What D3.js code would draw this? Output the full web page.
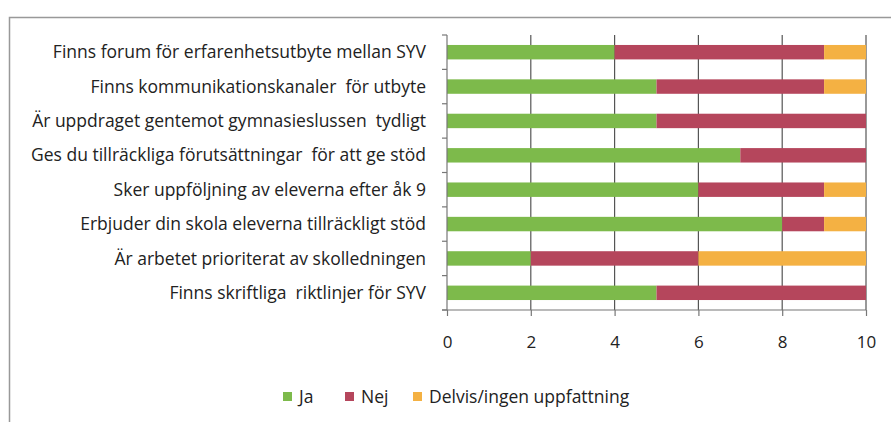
<!DOCTYPE html>
<html>
<head>
<meta charset="utf-8">
<script src="https://cdn.jsdelivr.net/npm/d3@7"></script>
<style>
  body { margin: 0; background: #fff; }
  text { font-family: "Open Sans", Lato, sans-serif; fill: #222; }
</style>
</head>
<body>
<script>
// questions, top to bottom
var categories = [
    "Finns forum för erfarenhetsutbyte mellan SYV",
    "Finns kommunikationskanaler  för utbyte",
    "Är uppdraget gentemot gymnasieslussen  tydligt",
    "Ges du tillräckliga förutsättningar  för att ge stöd",
    "Sker uppföljning av eleverna efter åk 9",
    "Erbjuder din skola eleverna tillräckligt stöd",
    "Är arbetet prioriterat av skolledningen",
    "Finns skriftliga  riktlinjer för SYV"
];
var ja     = [4, 5, 5, 7, 6, 8, 2, 5];
var nej    = [5, 4, 5, 3, 3, 1, 4, 5];
var delvis = [1, 1, 0, 0, 1, 1, 4, 0];
var seriesNames = ["Ja", "Nej", "Delvis/ingen uppfattning"];
var xTicks = [0, 2, 4, 6, 8, 10];

var colors = ["#7dba4b", "#b5465c", "#f4b143"];

var svg = d3.select("body").append("svg")
    .attr("width", 891)
    .attr("height", 422);

// outer frame of the scanned chart
svg.append("rect")
    .attr("x", 9.5).attr("y", 17.5)
    .attr("width", 900).attr("height", 420)
    .style("fill", "none")
    .style("stroke", "#999")
    .style("stroke-width", 1.5);

var x = d3.scaleLinear().domain([0, 10]).range([447, 866]);
var y = d3.scaleBand().domain(categories).range([35, 310]).paddingInner(0.58).paddingOuter(0.29);

// build stacked rows from the arrays
var rows = categories.map(function(c, i) {
    return { cat: c, Ja: ja[i], Nej: nej[i], "Delvis/ingen uppfattning": delvis[i] };
});
var stack = d3.stack().keys(seriesNames)(rows);

// vertical gridlines
svg.selectAll(".grid")
    .data(xTicks.slice(1))
    .enter()
    .append("line")
    .attr("class", "grid")
    .attr("x1", function(d) { return x(d); })
    .attr("x2", function(d) { return x(d); })
    .attr("y1", 35)
    .attr("y2", 310)
    .style("stroke", "#555")
    .style("stroke-width", 1.2);

// bars
svg.selectAll(".series")
    .data(stack)
    .enter()
    .append("g")
    .attr("class", "series")
    .style("fill", function(d, i) { return colors[i]; })
    .selectAll("rect")
    .data(function(d) { return d; })
    .enter()
    .append("rect")
    .attr("x", function(d) { return x(d[0]); })
    .attr("width", function(d) { return x(d[1]) - x(d[0]); })
    .attr("y", function(d) { return y(d.data.cat); })
    .attr("height", y.bandwidth());

// y axis with band boundary ticks
var yAxis = svg.append("g").attr("class", "yaxis");
yAxis.append("line")
    .attr("x1", 447).attr("x2", 447)
    .attr("y1", 35).attr("y2", 310)
    .style("stroke", "#777").style("stroke-width", 1.2);
var step = y.step();
yAxis.selectAll(".ytick")
    .data(d3.range(categories.length + 1))
    .enter()
    .append("line")
    .attr("x1", 442).attr("x2", 447)
    .attr("y1", function(i) { return 35 + i * step; })
    .attr("y2", function(i) { return 35 + i * step; })
    .style("stroke", "#777").style("stroke-width", 1.2);

yAxis.selectAll(".ylabel")
    .data(categories)
    .enter()
    .append("text")
    .attr("x", 426)
    .attr("y", function(d) { return y(d) + y.bandwidth() / 2; })
    .attr("dy", "0.35em")
    .attr("text-anchor", "end")
    .style("font-size", "17.5px")
    .style("white-space", "pre")
    .text(function(d) { return d; });

// x axis
var xAxis = d3.axisBottom(x).tickValues(xTicks).tickSize(6).tickPadding(20);
var gx = svg.append("g")
    .attr("transform", "translate(0,310)")
    .call(xAxis);
gx.select(".domain").style("stroke", "#777").style("stroke-width", 1.2).attr("d", "M442,0H866");
gx.selectAll(".tick line").style("stroke", "#777").style("stroke-width", 1.2);
gx.selectAll(".tick text").style("font-size", "17px").style("font-family", "'Open Sans', sans-serif").style("fill", "#222");

// legend
var legendX = [283, 345, 413];
var legend = svg.selectAll(".legend")
    .data(seriesNames)
    .enter()
    .append("g")
    .attr("class", "legend")
    .attr("transform", function(d, i) { return "translate(" + legendX[i] + ",397)"; });
legend.append("rect")
    .attr("x", 0).attr("y", -5)
    .attr("width", 9).attr("height", 9)
    .style("fill", function(d, i) { return colors[i]; });
legend.append("text")
    .attr("x", 16)
    .attr("dy", "0.35em")
    .style("font-size", "17.5px")
    .text(function(d) { return d; });
</script>
</body>
</html>
